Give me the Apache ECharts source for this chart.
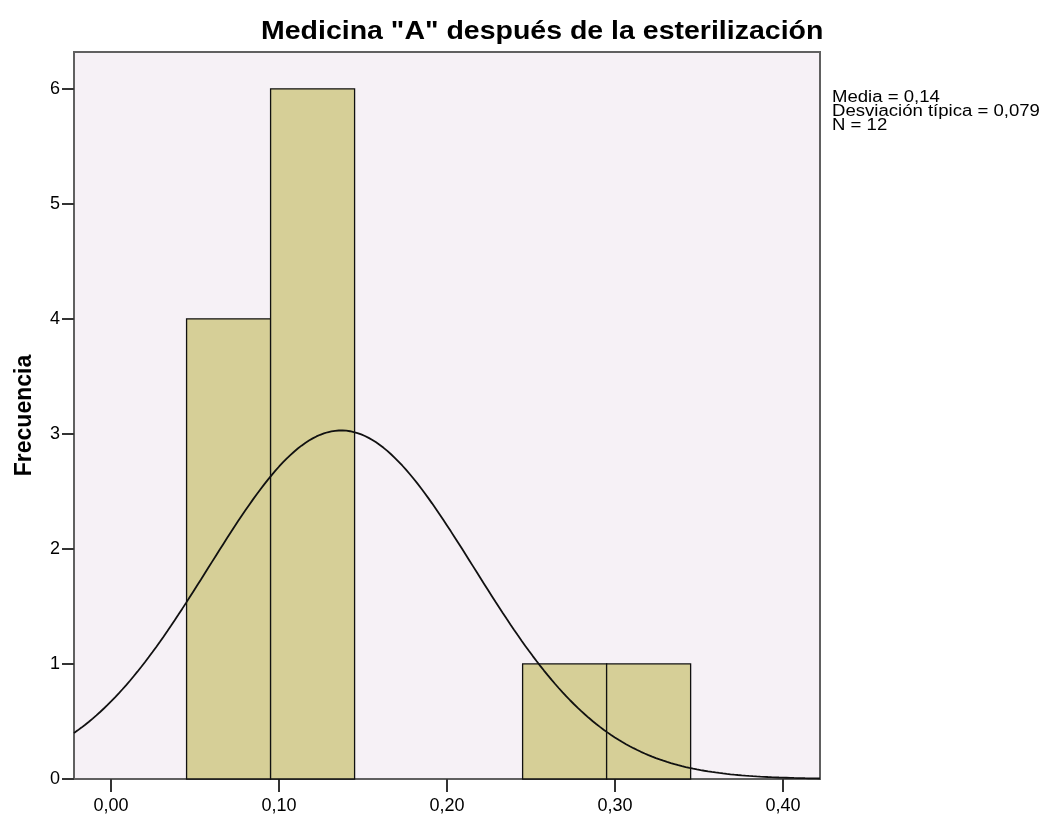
<!DOCTYPE html>
<html>
<head>
<meta charset="utf-8">
<script src="https://cdn.jsdelivr.net/npm/echarts@6/dist/echarts.min.js"></script>
<style>html,body{margin:0;padding:0;background:#fff;}#c{width:1048px;height:815px;}</style>
</head>
<body>
<div id="c"></div>
<script>
// Histogram bins (class limits) and frequencies
var binStarts = [0.045, 0.095, 0.245, 0.295];
var binEnds   = [0.095, 0.145, 0.295, 0.345];
var counts    = [4, 6, 1, 1];
// Summary statistics used for the fitted normal curve
var statMean = 0.137;
var statSD = 0.079;
var statN = 12;
var binWidth = 0.05;
// Axis ticks
var xTicks = [0, 0.1, 0.2, 0.3, 0.4];
var yTicks = [0, 1, 2, 3, 4, 5, 6];
var title = 'Medicina "A" después de la esterilización';
var yName = 'Frecuencia';
var statLines = ['Media = 0,14', 'Desviación típica = 0,079', 'N = 12'];

var xMin = -0.022, xMax = 0.422, yMax = 6.32;

var barData = binStarts.map(function (s, i) { return [s, binEnds[i], counts[i]]; });

var curve = [];
var steps = 200;
for (var k = 0; k <= steps; k++) {
  var x = xMin + (xMax - xMin) * k / steps;
  var z = (x - statMean) / statSD;
  var y = statN * binWidth * Math.exp(-0.5 * z * z) / (statSD * Math.sqrt(2 * Math.PI));
  curve.push([x, y]);
}

var chart = echarts.init(document.getElementById('c'), null, { renderer: 'canvas' });
var font = 'Liberation Sans, Arial, sans-serif';
chart.setOption({
  animation: false,
  backgroundColor: '#ffffff',
  graphic: [{
    type: 'text', x: 261, y: 20, scaleX: 1.14,
    style: { text: title, font: 'bold 25px ' + font, fill: '#000', verticalAlign: 'top' }
  }, {
    type: 'text', x: 832, y: 91, scaleX: 1.16,
    style: { text: statLines.join('\n'), font: '16px ' + font, fill: '#000', lineHeight: 14, verticalAlign: 'top' }
  }],
  grid: {
    left: 74, right: 228, top: 52, bottom: 36,
    show: true, backgroundColor: '#F6F1F6', borderColor: '#606060', borderWidth: 2
  },
  xAxis: {
    type: 'value', min: xMin, max: xMax,
    axisLine: { show: false, onZero: false },
    splitLine: { show: false },
    axisTick: { show: true, length: 13, customValues: xTicks, lineStyle: { color: '#333', width: 2 } },
    axisLabel: {
      customValues: xTicks, margin: 18,
      fontFamily: font, fontSize: 18, color: '#000',
      formatter: function (v) { return v.toFixed(2).replace('.', ','); }
    }
  },
  yAxis: {
    type: 'value', min: 0, max: yMax,
    name: yName, nameLocation: 'middle', nameGap: 38,
    nameTextStyle: { fontFamily: font, fontSize: 23, fontWeight: 'bold', color: '#000' },
    axisLine: { show: false, onZero: false },
    splitLine: { show: false },
    axisTick: { show: true, length: 12, customValues: yTicks, lineStyle: { color: '#333', width: 2 } },
    axisLabel: {
      customValues: yTicks, margin: 14,
      fontFamily: font, fontSize: 18, color: '#000'
    }
  },
  series: [{
    type: 'custom',
    data: barData,
    renderItem: function (params, api) {
      var p0 = api.coord([api.value(0), api.value(2)]);
      var p1 = api.coord([api.value(1), 0]);
      return {
        type: 'rect',
        shape: { x: p0[0], y: p0[1], width: p1[0] - p0[0], height: p1[1] - p0[1] },
        style: { fill: '#D6CF97', stroke: '#111', lineWidth: 1.3 }
      };
    },
    encode: { x: [0, 1], y: 2 },
    z: 2
  }, {
    type: 'line',
    data: curve,
    showSymbol: false,
    symbol: 'none',
    lineStyle: { color: '#111', width: 1.8 },
    clip: true,
    z: 3
  }]
});
</script>
</body>
</html>
